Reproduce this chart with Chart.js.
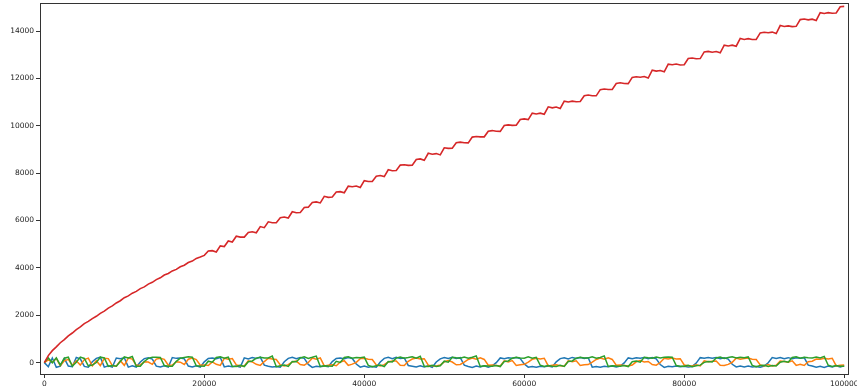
<!DOCTYPE html>
<html><head><meta charset="utf-8">
<script src="https://cdn.jsdelivr.net/npm/chart.js@4"></script>
<style>html,body{margin:0;padding:0;background:#fff;overflow:hidden}#wrap{width:857px;height:392px;position:relative}</style>
</head><body><div id="wrap"><canvas id="c" width="857" height="392"></canvas></div>
<script>
const xValues = [0,500,1000,1500,2000,2500,3000,3500,4000,4500,
5000,5500,6000,6500,7000,7500,8000,8500,9000,9500,
10000,10500,11000,11500,12000,12500,13000,13500,14000,14500,
15000,15500,16000,16500,17000,17500,18000,18500,19000,19500,
20000,20500,21000,21500,22000,22500,23000,23500,24000,24500,
25000,25500,26000,26500,27000,27500,28000,28500,29000,29500,
30000,30500,31000,31500,32000,32500,33000,33500,34000,34500,
35000,35500,36000,36500,37000,37500,38000,38500,39000,39500,
40000,40500,41000,41500,42000,42500,43000,43500,44000,44500,
45000,45500,46000,46500,47000,47500,48000,48500,49000,49500,
50000,50500,51000,51500,52000,52500,53000,53500,54000,54500,
55000,55500,56000,56500,57000,57500,58000,58500,59000,59500,
60000,60500,61000,61500,62000,62500,63000,63500,64000,64500,
65000,65500,66000,66500,67000,67500,68000,68500,69000,69500,
70000,70500,71000,71500,72000,72500,73000,73500,74000,74500,
75000,75500,76000,76500,77000,77500,78000,78500,79000,79500,
80000,80500,81000,81500,82000,82500,83000,83500,84000,84500,
85000,85500,86000,86500,87000,87500,88000,88500,89000,89500,
90000,90500,91000,91500,92000,92500,93000,93500,94000,94500,
95000,95500,96000,96500,97000,97500,98000,98500,99000,99500,
100000];

const blue = [0,-170,195,-195,-150,180,-145,-175,220,160,
-160,-195,35,180,230,-190,-135,-190,195,165,
205,-190,-135,-185,30,170,205,150,-150,-185,
-130,-185,215,180,195,160,-145,-185,-130,-185,
35,175,195,160,220,-180,-145,-175,-145,-185,
200,155,215,180,230,-105,-150,-185,-160,-190,
35,180,225,170,215,180,-75,-200,-155,-175,
-140,-175,45,175,195,160,220,175,-60,-190,
-140,-190,-165,-190,30,180,225,170,225,170,
195,-120,-150,-185,-135,-185,-135,-195,25,160,
215,175,230,175,210,-105,-160,-205,-145,-180,
-130,-190,-140,0,200,165,205,190,220,170,
-55,-190,-165,-195,-150,-170,-145,-180,35,170,
205,155,220,180,215,180,205,-190,-165,-195,
-150,-170,-145,-180,-145,-10,200,165,205,190,
220,170,220,160,-80,-200,-155,-175,-140,-175,
-150,-185,-160,-20,210,185,215,185,215,165,
205,150,-70,-180,-145,-180,-145,-180,-165,-195,
-150,-5,215,175,220,165,210,160,205,185,
210,-105,-145,-195,-155,-200,-140,-185,-135,-185,
-135];

const orange = [0,120,15,175,-130,75,140,-115,75,-105,
130,190,-135,80,-125,180,170,-125,-150,80,
-115,190,150,-115,-95,35,25,-70,150,185,
140,-110,-105,40,20,-75,145,195,130,-110,
-95,-120,30,-70,-115,180,145,170,-95,-135,
-145,75,30,-70,-115,45,185,150,130,-95,
-140,-85,30,65,-80,-105,5,190,145,200,
-140,-115,-95,-130,25,80,-115,-65,10,170,
185,145,135,-95,-140,-85,25,65,70,-110,
-120,55,150,190,150,165,-105,-130,-140,-100,
35,85,25,-90,-75,25,135,190,145,200,
135,-110,-105,-125,-145,75,30,85,-120,-85,
-70,25,140,185,155,185,-140,-115,-95,-130,
-150,75,40,75,-120,-85,-80,20,135,190,
145,200,135,-110,-105,-125,-145,-100,35,85,
25,50,-80,-105,5,185,150,190,150,165,
-100,-135,-140,-95,-140,80,35,55,70,-110,
-120,-75,15,190,145,170,190,145,135,-95,
-140,-85,-140,-115,70,45,20,75,-115,-65,
-120,40,60,150,140,185,155,185,-140,-115,
-95];

const green = [0,195,-5,205,-105,185,230,-150,20,235,
175,-135,-105,5,230,195,-155,-125,-155,45,
240,200,260,-155,-155,50,180,225,230,220,
-125,-155,-150,55,185,215,245,230,-130,-145,
-155,60,15,220,250,185,230,-150,-160,-110,
-165,40,70,190,230,195,195,275,-170,-130,
-105,-160,50,35,195,245,180,225,275,-160,
-130,-145,-155,55,10,215,245,190,220,205,
235,-115,-170,-130,-105,-165,50,30,190,240,
185,215,250,190,270,-150,-160,-110,-165,-135,
60,20,225,205,190,240,185,230,280,-160,
-130,-145,-155,-120,-165,45,70,185,230,200,
190,245,185,225,-110,-165,-120,-150,-160,-115,
-160,45,70,190,230,195,195,245,190,220,
285,-160,-130,-145,-155,-120,-165,40,65,20,
225,205,190,235,195,225,240,230,-125,-155,
-150,-115,-170,-130,-105,10,50,30,195,240,
180,220,250,195,225,210,240,-115,-170,-125,
-110,-165,-125,-145,15,60,15,220,245,185,
225,210,200,235,195,265,-110,-165,-120,-150,
-150];

const red = [0,297,505,665,840,970,1130,1250,1390,1505,
1645,1740,1860,1955,2080,2175,2300,2395,2520,2612,
2740,2818,2932,3008,3125,3198,3315,3390,3505,3580,
3700,3762,3872,3936,4048,4110,4225,4285,4400,4460,
4528,4711,4727,4672,4930,4902,5137,5092,5336,5298,
5299,5498,5524,5484,5744,5698,5946,5906,5909,6120,
6146,6104,6370,6326,6338,6547,6563,6758,6784,6742,
7020,6976,6993,7202,7219,7172,7452,7426,7458,7394,
7684,7646,7649,7871,7897,7852,8142,8098,8113,8338,
8355,8328,8332,8576,8600,8539,8838,8800,8825,8770,
9070,9044,9052,9282,9310,9280,9279,9521,9547,9529,
9532,9768,9796,9766,9764,10009,10035,10017,10022,10261,
10289,10259,10534,10499,10533,10487,10799,10755,10791,10731,
11039,11004,11038,11014,11022,11269,11297,11267,11264,11523,
11549,11531,11537,11785,11813,11783,11779,12042,12068,12050,
12076,12014,12343,12305,12330,12275,12601,12575,12607,12565,
12578,12841,12858,12831,12837,13116,13140,13104,13134,13081,
13402,13367,13401,13357,13686,13642,13678,13642,13644,13919,
13945,13927,13953,13894,14231,14193,14218,14185,14197,14482,
14506,14470,14500,14446,14777,14742,14776,14752,14762,15024,
15038];

const xTicks = [0,20000,40000,60000,80000,100000];
const yTicks = [0,2000,4000,6000,8000,10000,12000,14000];

const pts = arr => arr.map((y, i) => ({x: xValues[i], y: y}));

const framePlugin = {
  id: 'frame',
  afterDraw(chart) {
    const a = chart.chartArea, ctx = chart.ctx;
    ctx.save();
    ctx.strokeStyle = '#333';
    ctx.lineWidth = 1;
    ctx.strokeRect(Math.round(a.left) + 0.5, Math.round(a.top) - 0.5, Math.round(a.right - a.left) - 1, Math.round(a.bottom - a.top) + 1);
    ctx.restore();
  }
};

const tickFont = {family: 'DejaVu Sans', size: 7.5};

new Chart(document.getElementById('c'), {
  type: 'line',
  data: {
    datasets: [
      {data: pts(red), borderColor: '#d62728', borderWidth: 1.6},
      {data: pts(green), borderColor: '#2ca02c', borderWidth: 1.5},
      {data: pts(orange), borderColor: '#ff7f0e', borderWidth: 1.5},
      {data: pts(blue), borderColor: '#1f77b4', borderWidth: 1.5}
    ]
  },
  options: {
    responsive: false,
    animation: false,
    devicePixelRatio: 1,
    elements: {point: {radius: 0}, line: {tension: 0}},
    layout: {padding: {top: 4, right: 8, left: 0, bottom: 0}},
    plugins: {legend: {display: false}, tooltip: {enabled: false}},
    scales: {
      x: {
        type: 'linear', min: -540, max: 100600,
        afterBuildTicks: s => { s.ticks = xTicks.map(v => ({value: v})); },
        afterFit: s => { s.height = 18; s.paddingLeft = 0; s.paddingRight = 0; },
        ticks: {font: tickFont, color: '#222', padding: 2, maxRotation: 0, autoSkip: false, callback: v => String(v)},
        grid: {display: true, drawOnChartArea: false, drawTicks: true, tickLength: 4, color: '#333'},
        border: {display: false}
      },
      y: {
        type: 'linear', min: -480, max: 15140,
        afterBuildTicks: s => { s.ticks = yTicks.map(v => ({value: v})); },
        afterFit: s => { s.width = 40; s.paddingTop = 0; s.paddingBottom = 0; },
        ticks: {font: tickFont, color: '#222', padding: 2, autoSkip: false, callback: v => String(v)},
        grid: {display: true, drawOnChartArea: false, drawTicks: true, tickLength: 4, color: '#333'},
        border: {display: false}
      }
    }
  },
  plugins: [framePlugin]
});
</script>
</body></html>
